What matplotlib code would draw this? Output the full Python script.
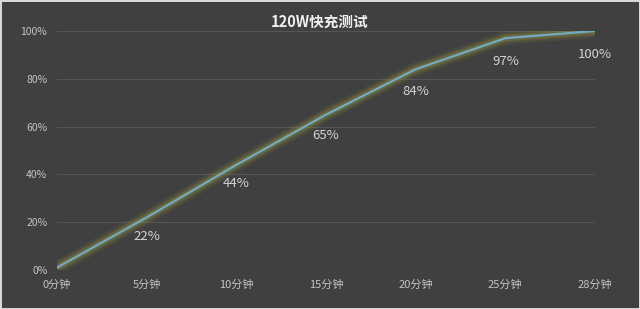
import matplotlib.pyplot as plt
import numpy as np

plt.rcParams['font.family'] = ['Noto Sans CJK SC', 'DejaVu Sans']

categories = ["0分钟", "5分钟", "10分钟", "15分钟", "20分钟", "25分钟", "28分钟"]
charge = [1, 22, 44, 65, 84, 97, 100]
point_labels = ["", "22%", "44%", "65%", "84%", "97%", "100%"]
y_ticks = [0, 20, 40, 60, 80, 100]

bg = '#404040'
fig = plt.figure(figsize=(6.4, 3.09), dpi=100, facecolor=bg)
fig.patch.set_edgecolor('#d8d8d8')
fig.patch.set_linewidth(2)
ax = fig.add_axes([57 / 640, 1 - 270 / 309, 538 / 640, 239 / 309])
ax.set_facecolor(bg)

x = np.arange(len(categories))

# soft olive glow under the line
for lw, a in [(10, 0.12), (7, 0.2), (4.5, 0.35)]:
    ax.plot(x, charge, color='#8a8a3c', linewidth=lw, alpha=a,
            solid_capstyle='butt', zorder=2)
ax.plot(x, charge, color='#72aac4', linewidth=1.6, zorder=3)

offsets = [0, -9, -9, -10, -11, -12, -12]
for xi, yi, lab, off in zip(x, charge, point_labels, offsets):
    ax.annotate(lab, (xi, yi), xytext=(0, off), textcoords='offset points',
                ha='center', va='top', color='#d4d4d4', fontsize=9.5)

ax.set_xlim(0, len(categories) - 1)
ax.set_ylim(0, 100)
ax.set_xticks(x)
ax.set_xticklabels(categories)
ax.set_yticks(y_ticks)
ax.set_yticklabels([f"{v}%" for v in y_ticks])
ax.tick_params(axis='both', length=0, colors='#c4c4c4', labelsize=7.5)
ax.tick_params(axis='x', pad=7, labelsize=8)
ax.tick_params(axis='y', pad=7)
ax.grid(axis='y', color='#555555', linewidth=0.8)
ax.set_axisbelow(True)
for s in ax.spines.values():
    s.set_visible(False)

fig.text(0.5, 1 - 22 / 309, "120W快充测试", ha='center', va='center',
         color='#f0f0f0', fontsize=10.5, fontweight='bold')

fig.savefig('out.png', dpi=100, facecolor=bg, edgecolor=fig.get_edgecolor())
